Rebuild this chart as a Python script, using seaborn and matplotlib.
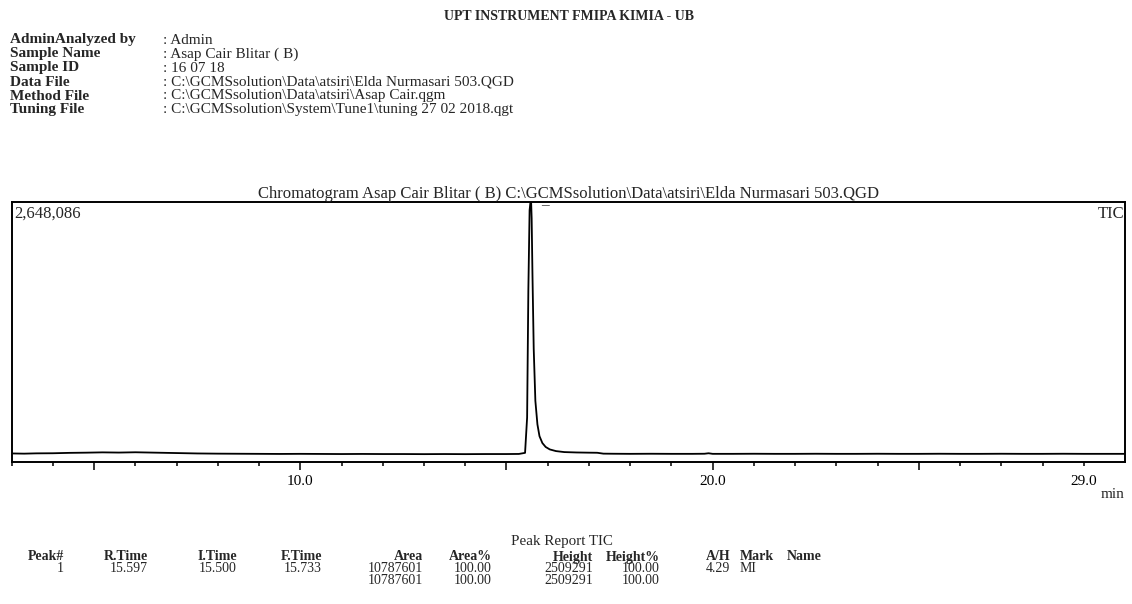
import matplotlib
matplotlib.use("Agg")
import matplotlib.pyplot as plt
import seaborn as sns
import pandas as pd

W, H = 1132, 604

# report header
report_title = "UPT INSTRUMENT FMIPA KIMIA - UB"
info_labels = ["AdminAnalyzed by", "Sample Name", "Sample ID", "Data File", "Method File", "Tuning File"]
info_values = [": Admin", ": Asap Cair Blitar ( B)", ": 16 07 18",
               ": C:\\GCMSsolution\\Data\\atsiri\\Elda Nurmasari 503.QGD",
               ": C:\\GCMSsolution\\Data\\atsiri\\Asap Cair.qgm",
               ": C:\\GCMSsolution\\System\\Tune1\\tuning 27 02 2018.qgt"]

chart_title = "Chromatogram Asap Cair Blitar ( B) C:\\GCMSsolution\\Data\\atsiri\\Elda Nurmasari 503.QGD"
y_max = 2648086
peak_rt = 15.597

# TIC trace (min, counts)
rt_min = [3.0, 3.3, 3.6, 4.0, 4.4, 4.8, 5.2, 5.6, 6.0, 6.5, 7.0, 7.5, 8.0, 8.5, 9.0,
          9.5, 10.0, 10.5, 11.0, 11.5, 12.0, 12.5, 13.0, 13.5, 14.0, 14.5, 15.0, 15.3,
          15.45, 15.50, 15.53, 15.56, 15.58, 15.597, 15.61, 15.63, 15.66, 15.70, 15.75,
          15.80, 15.87, 15.95, 16.05, 16.2, 16.4, 16.7, 17.0, 17.2, 17.35, 17.6, 18.0,
          18.5, 19.0, 19.5, 19.8, 19.9, 20.0, 20.5, 21.0, 21.5, 22.0, 22.5, 23.0, 23.5,
          24.0, 24.5, 25.0, 25.5, 26.0, 26.5, 27.0, 27.5, 28.0, 28.5, 29.0, 29.5, 30.0]
tic = [84000, 82000, 85000, 86000, 90000, 92000, 95000, 93000, 96000, 92000, 88000,
       84000, 82000, 81000, 80000, 79000, 80000, 79000, 78000, 79000, 78000, 78000,
       77000, 78000, 77000, 78000, 78000, 79000,
       90000, 450000, 1750000, 2560000, 2640000, 2648000, 2480000, 1900000, 1150000,
       620000, 380000, 260000, 190000, 150000, 125000, 108000, 98000, 94000, 92000,
       91000, 82000, 81000, 80000, 81000, 80000, 80000, 81000, 86000, 80000, 80000,
       81000, 80000, 80000, 81000, 80000, 80000, 81000, 80000, 80000, 81000, 80000,
       80000, 81000, 80000, 80000, 81000, 80000, 80000, 80000]

major_ticks = [5, 10, 15, 20, 25]
major_labels = ["", "10.0", "", "20.0", ""]
minor_ticks = [3, 4, 6, 7, 8, 9, 11, 12, 13, 14, 16, 17, 18, 19, 21, 22, 23, 24, 26, 27, 28, 29]
minor_labels = ["29.0" if t == 29 else "" for t in minor_ticks]

# peak report
report_cols = ["Peak#", "R.Time", "I.Time", "F.Time", "Area", "Area%", "Height", "Height%", "A/H", "Mark", "Name"]
row_peak = ["1", "15.597", "15.500", "15.733", "10787601", "100.00", "2509291", "100.00", "4.29", "MI", ""]
row_total = ["", "", "", "", "10787601", "100.00", "2509291", "100.00", "", "", ""]

sns.set_style("white")
plt.rcParams["font.family"] = ["Liberation Serif", "DejaVu Serif"]

fig = plt.figure(figsize=(W / 100, H / 100), dpi=100)


def fx(x):
    return x / W


def fy(y):
    return 1 - y / H


# header block
fig.text(fx(569), fy(17), report_title, fontsize=10, fontweight="bold", ha="center", va="center")
for i, (lab, val) in enumerate(zip(info_labels, info_values)):
    yy = 40 + i * 14
    fig.text(fx(10), fy(yy), lab, fontsize=11, fontweight="bold", va="center")
    fig.text(fx(163), fy(yy), val, fontsize=11, va="center")

# chromatogram
ax = fig.add_axes([fx(11.7), fy(461.7), (1125 - 11.7) / W, 260 / H])
df = pd.DataFrame({"rt": rt_min, "tic": tic})
sns.lineplot(data=df, x="rt", y="tic", ax=ax, color="black", linewidth=1.3, estimator=None)
ax.set_xlim(3.0, 30.0)
ax.set_ylim(0, y_max)
ax.set_yticks([])
ax.set_xlabel("")
ax.set_ylabel("")
for sp in ax.spines.values():
    sp.set_visible(True)
    sp.set_color("black")
    sp.set_linewidth(1.4)

ax.set_xticks(major_ticks, labels=major_labels)
ax.set_xticks(minor_ticks, labels=minor_labels, minor=True)
ax.tick_params(axis="x", which="major", direction="out", length=6, width=1.1, pad=3.5,
               labelsize=11, colors="black", bottom=True)
ax.tick_params(axis="x", which="minor", direction="out", length=3, width=1.1, pad=6.5,
               labelsize=11, colors="black", bottom=True)

ax.set_title(chart_title, fontsize=12, pad=1)
ax.text(0.002, 0.985, f"{y_max:,}", transform=ax.transAxes, fontsize=12, va="top", ha="left")
ax.text(0.999, 0.985, "TIC", transform=ax.transAxes, fontsize=12, va="top", ha="right")
ax.annotate("\u00af", xy=(peak_rt, y_max), xytext=(10, -3), textcoords="offset points",
            fontsize=11, va="top", ha="center")
fig.text(fx(1125), fy(494), "min", fontsize=11, ha="right", va="center")

# peak report table
fig.text(fx(562), fy(541), "Peak Report TIC", fontsize=10.8, ha="center", va="center")
col_x = [64, 148, 237, 322, 423, 492, 593, 660, 730, 740, 787]
col_ha = ["right"] * 9 + ["left", "left"]
for cx, ha, name, v1, v2 in zip(col_x, col_ha, report_cols, row_peak, row_total):
    fig.text(fx(cx), fy(557), name, fontsize=10, fontweight="bold", ha=ha, va="center")
    fig.text(fx(cx), fy(569), v1, fontsize=10, ha=ha, va="center")
    fig.text(fx(cx), fy(580), v2, fontsize=10, ha=ha, va="center")

fig.savefig("out.png", dpi=100)
